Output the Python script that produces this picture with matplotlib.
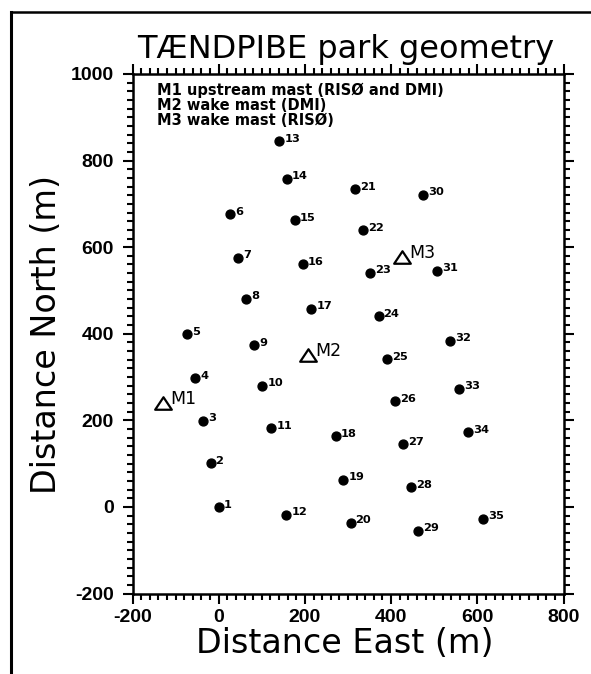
import matplotlib as mpl
mpl.use('Agg')

import matplotlib.pyplot as plt
from matplotlib.path import Path
from matplotlib.lines import Line2D
from matplotlib.ticker import MultipleLocator
import numpy as np

# turbine positions (m)
turbine_no = list(range(1, 36))
east = [0, -19, -36, -54, -73,
        26, 45, 63, 83, 101, 122, 157,
        141, 158, 176, 196, 215, 272, 289, 306,
        317, 334, 352, 371, 390, 409, 428, 447, 463,
        474, 507, 536, 557, 578, 614]
north = [0, 101, 199, 298, 399,
         677, 576, 481, 373, 280, 182, -18,
         845, 758, 663, 560, 458, 163, 63, -36,
         734, 640, 541, 441, 342, 244, 145, 46, -55,
         721, 546, 384, 273, 172, -27]

mast_names = ['M1', 'M2', 'M3']
mast_east = [-129, 207, 425]
mast_north = [240, 352, 577]

legend_lines = ['M1 upstream mast (RISØ and DMI)',
                'M2 wake mast (DMI)',
                'M3 wake mast (RISØ)']

ticks = np.arange(-200, 801, 200)
yticks = np.arange(-200, 1001, 200)

W, H = 591, 674
fig = plt.figure(figsize=(W / 100, H / 100), dpi=100)
ax = fig.add_axes([132.5 / W, 1 - 593.5 / H, 431 / W, 519.5 / H])

ax.plot(east, north, 'o', color='k', ms=6.4, ls='none')
for n, x, y in zip(turbine_no, east, north):
    ax.annotate(str(n), (x, y), xytext=(3.6, -0.5), textcoords='offset points',
                fontsize=8.2, fontweight='bold', va='baseline', ha='left')

tri = Path([(0, 0.75), (-1, -0.75), (1, -0.75), (0, 0.75)],
           [Path.MOVETO, Path.LINETO, Path.LINETO, Path.CLOSEPOLY])
ax.plot(mast_east, mast_north, marker=tri, ms=12, mfc='none', mec='k',
        mew=1.6, ls='none')
for name, x, y in zip(mast_names, mast_east, mast_north):
    ax.annotate(name, (x, y), xytext=(5.2, -0.7), textcoords='offset points',
                fontsize=12.5, va='baseline', ha='left')

ax.set_xlim(-200, 800)
ax.set_ylim(-200, 1000)
ax.set_xticks(ticks)
ax.set_xticklabels([str(t) for t in ticks], fontweight='bold',
                   fontfamily='Liberation Sans', fontsize=14)
ax.set_yticks(yticks)
ax.set_yticklabels([str(t) for t in yticks], fontweight='bold',
                   fontfamily='Liberation Sans', fontsize=14)
ax.xaxis.set_minor_locator(MultipleLocator(20))
ax.yaxis.set_minor_locator(MultipleLocator(20))
ax.tick_params(which='both', direction='out', top=True, right=True, width=1.5)
ax.tick_params(which='major', length=7.5)
ax.tick_params(which='minor', length=4.5)
ax.tick_params(axis='x', pad=3.5)
ax.tick_params(axis='y', pad=6)
for s in ax.spines.values():
    s.set_linewidth(1.8)

for i, txt in enumerate(legend_lines):
    fig.text(156.7 / W, 1 - (95 + 15 * i) / H, txt, fontsize=10.5,
             fontweight='bold', va='baseline', ha='left')

fig.text(345.5 / W, 1 - 58 / H, 'TÆNDPIBE park geometry', ha='center',
         va='baseline', fontsize=23)
fig.text(345 / W, 1 - 653 / H, 'Distance East (m)', ha='center',
         va='baseline', fontsize=24)
fig.text(56 / W, 1 - 334 / H, 'Distance North (m)', ha='center',
         va='baseline', fontsize=24, rotation=90, rotation_mode='anchor')

# page frame
fig.add_artist(Line2D([11 / W, 11 / W], [0, 1 - 12 / H], transform=fig.transFigure,
                      color='k', lw=2.2))
fig.add_artist(Line2D([11 / W, 1], [1 - 12 / H, 1 - 12 / H], transform=fig.transFigure,
                      color='k', lw=1.8))

fig.savefig('out.png', dpi=100)
